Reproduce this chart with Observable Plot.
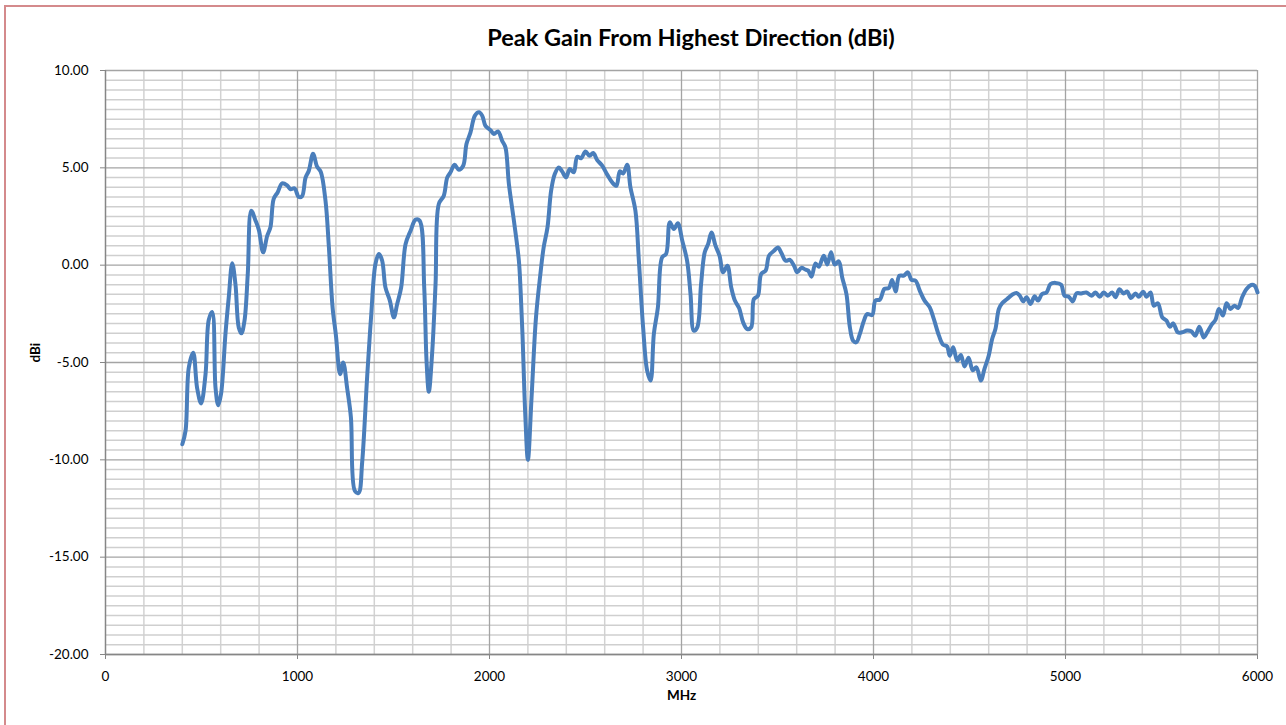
<!DOCTYPE html>
<html><head><meta charset="utf-8">
<script src="https://cdn.jsdelivr.net/npm/d3@7"></script>
<script src="https://cdn.jsdelivr.net/npm/@observablehq/plot@0.6"></script>
<style>
body{margin:0;background:#fff;font-family:Lato,sans-serif;}
#wrap{position:relative;width:1286px;height:725px;overflow:hidden;background:#fff;}
#border{position:absolute;left:4px;top:5px;right:-10px;bottom:-10px;border-top:2px solid #d48a8c;border-left:2px solid #d48a8c;}
#title{position:absolute;top:23px;left:96px;width:1190px;text-align:center;font:bold 23.5px Lato,sans-serif;color:#000;}
#chart{position:absolute;top:60px;left:0;}
</style></head><body>
<div id="wrap"><div id="border"></div><div id="title">Peak Gain From Highest Direction (dBi)</div><div id="chart"></div></div>
<script>
const chartTitle = "Peak Gain From Highest Direction (dBi)";
const xLabel = "MHz";
const yLabel = "dBi";
const xTicks = [0, 1000, 2000, 3000, 4000, 5000, 6000];
const yTicks = [-20, -15, -10, -5, 0, 5, 10];
const xMinorStep = 200;
const yMinorStep = 0.5;

const mhz = [400,417,434,457,477,498,521,538,556,573,587,602,625,642,660,677,694,708,724,741,759,781,799,821,842,859,876,897,920,946,964,984,1007,1024,1042,1059,1081,1102,1121,1146,1163,1183,1200,1222,1238,1259,1278,1299,1318,1337,1363,1383,1406,1424,1441,1458,1481,1502,1519,1540,1563,1589,1615,1636,1660,1672,1684,1701,1719,1736,1762,1780,1797,1818,1840,1863,1880,1901,1924,1945,1962,1979,2005,2023,2044,2066,2083,2101,2127,2153,2162,2172,2186,2200,2219,2242,2264,2282,2302,2321,2340,2361,2378,2399,2418,2439,2457,2477,2500,2521,2540,2561,2587,2613,2639,2661,2679,2696,2717,2734,2760,2778,2800,2821,2839,2856,2877,2899,2920,2939,2960,2981,3004,3029,3047,3064,3082,3102,3121,3139,3156,3177,3198,3217,3239,3259,3278,3300,3321,3342,3363,3377,3398,3415,3438,3456,3482,3502,3521,3542,3565,3586,3603,3624,3646,3660,3677,3698,3715,3741,3759,3779,3798,3819,3837,3859,3877,3894,3911,3929,3950,3967,3993,4010,4033,4057,4080,4097,4115,4135,4158,4179,4198,4219,4241,4266,4293,4314,4341,4362,4383,4397,4415,4436,4455,4474,4495,4517,4536,4559,4578,4600,4618,4635,4653,4670,4696,4722,4745,4762,4780,4797,4818,4839,4857,4878,4901,4922,4948,4977,4995,5017,5038,5057,5082,5109,5135,5156,5178,5199,5220,5243,5260,5281,5303,5321,5341,5365,5382,5405,5422,5443,5460,5481,5504,5526,5544,5561,5585,5607,5633,5655,5676,5697,5720,5741,5764,5781,5799,5820,5839,5859,5880,5899,5920,5943,5967,5984,6000];
const dbi = [-9.2,-8.5,-5.25,-4.5,-6.3,-7.1,-5.6,-2.8,-2.4,-6.3,-7.2,-6.6,-3.5,-1.65,0.1,-1.0,-3.2,-3.5,-2.85,-0.45,2.8,2.3,1.8,0.66,1.5,1.95,3.4,3.75,4.2,4.1,3.9,3.95,3.5,3.55,4.5,4.85,5.72,5.06,4.8,3.3,1.0,-2.2,-3.6,-5.6,-5.0,-6.35,-7.8,-11.6,-11.7,-10.1,-5.7,-2.7,0.06,0.58,0.23,-1.14,-1.82,-2.68,-2.0,-1.14,1.09,1.77,2.34,2.29,-1.14,-4.9,-6.5,-4.56,-0.97,3.14,3.57,4.51,4.77,5.16,4.9,5.11,6.22,6.82,7.68,7.85,7.68,7.16,6.94,6.74,6.87,6.39,6.05,4.17,2.29,0.23,-1.3,-3.6,-7.6,-10.0,-6.8,-2.7,-0.55,0.91,1.94,3.83,4.68,5.02,4.82,4.51,4.94,4.77,5.57,5.49,5.84,5.62,5.76,5.4,5.11,4.65,4.25,4.08,4.82,4.71,5.16,4.0,2.8,0.23,-3.19,-5.42,-5.93,-3.53,-2.17,0.4,0.58,2.2,1.86,2.15,1.26,0.23,-1.48,-3.36,-3.19,-0.97,0.66,1.09,1.68,1.0,0.49,-0.37,-0.03,-1.14,-1.82,-2.2,-2.94,-3.28,-3.19,-1.74,-1.57,-0.45,-0.28,0.49,0.74,0.91,0.61,0.23,0.27,-0.03,-0.37,-0.14,-0.23,-0.28,-0.59,0.09,-0.08,0.49,0.03,0.66,0.03,0.2,-0.63,-1.48,-3.19,-3.88,-3.96,-3.53,-2.85,-2.51,-2.56,-1.82,-1.77,-1.22,-1.17,-0.76,-1.35,-0.54,-0.54,-0.37,-0.76,-0.8,-1.31,-1.82,-2.17,-2.76,-3.62,-4.08,-4.17,-4.65,-4.22,-4.9,-4.62,-5.2,-4.75,-5.4,-5.25,-5.93,-5.33,-4.65,-3.79,-3.28,-2.25,-1.96,-1.74,-1.52,-1.43,-1.57,-1.86,-1.65,-1.99,-1.6,-1.82,-1.48,-1.4,-0.97,-0.91,-1.0,-1.57,-1.62,-1.86,-1.45,-1.45,-1.4,-1.57,-1.41,-1.62,-1.4,-1.57,-1.4,-1.65,-1.24,-1.45,-1.35,-1.69,-1.45,-1.62,-1.36,-1.62,-1.4,-2.08,-1.96,-2.68,-2.85,-3.16,-2.99,-3.45,-3.45,-3.36,-3.4,-3.62,-3.16,-3.71,-3.4,-3.02,-2.81,-2.25,-2.59,-1.96,-2.25,-2.08,-2.2,-1.65,-1.22,-1.02,-1.05,-1.4];

const data = mhz.map((m, i) => ({mhz: m, dbi: dbi[i]}));
const xMinor = d3.range(xTicks[0], xTicks[xTicks.length-1] + 1, xMinorStep).filter(d => d % 1000 !== 0);
const yMinor = d3.range(yTicks[0], yTicks[yTicks.length-1] + 0.01, yMinorStep).filter(d => d % 5 !== 0);

const chart = Plot.plot({
  width: 1286,
  height: 665,
  marginLeft: 105,
  marginRight: 29,
  marginTop: 10,
  marginBottom: 71,
  style: {fontFamily: "Lato, sans-serif", fontSize: "13.5px", background: "transparent", color: "#000", overflow: "visible"},
  x: {domain: [0, 6000]},
  y: {domain: [-20, 10]},
  marks: [
    Plot.ruleX(xMinor, {stroke: "#d2d2d2", strokeWidth: 1.5}),
    Plot.ruleY(yMinor, {stroke: "#cfcfcf", strokeWidth: 1.5}),
    Plot.ruleX(xTicks, {stroke: "#a4a4a4", strokeWidth: 1.3}),
    Plot.ruleY(yTicks, {stroke: "#a4a4a4", strokeWidth: 1.3}),
    Plot.ruleX([0], {stroke: "#868686", strokeWidth: 1.3}),
    Plot.ruleY([-20], {stroke: "#868686", strokeWidth: 1.3}),
    Plot.line(data, {x: "mhz", y: "dbi", curve: "catmull-rom", stroke: "#4a7ebb", strokeWidth: 4, strokeLinejoin: "round", strokeLinecap: "round"}),
    Plot.axisX(xTicks, {tickSize: 5, tickPadding: 12, stroke: "#868686", fill: "#000", label: null, tickFormat: d => String(d)}),
    Plot.axisY(yTicks, {tickSize: 5, tickPadding: 12, stroke: "#868686", fill: "#000", label: null, tickFormat: d => d.toFixed(2)}),
    Plot.text([xLabel], {frameAnchor: "bottom", dy: 45, text: d => d, fontWeight: "bold", fontSize: 13.5, fill: "#000"}),
    Plot.text([yLabel], {frameAnchor: "left", dx: -70, rotate: -90, text: d => d, fontWeight: "bold", fontSize: 13.5, fill: "#000"})
  ]
});
document.getElementById("chart").appendChild(chart);
</script>
</body></html>
